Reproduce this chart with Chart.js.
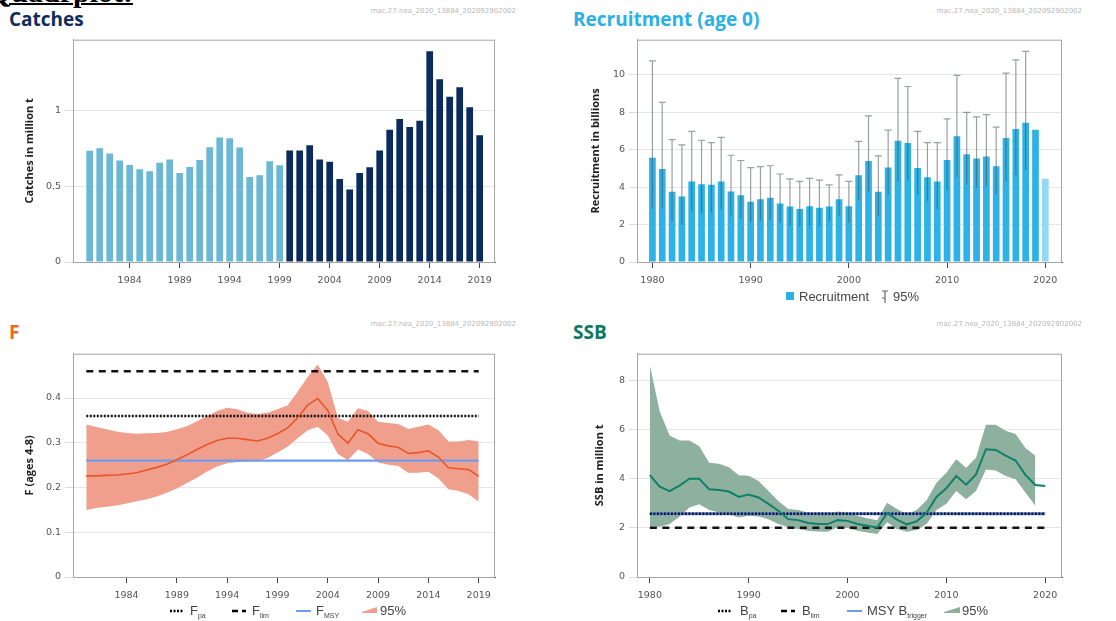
<!DOCTYPE html>
<html lang="en">
<head>
<meta charset="UTF-8">
<title>Quadplot</title>
<script src="https://cdn.jsdelivr.net/npm/chart.js"></script>
<style>
  body { margin: 0; width: 1116px; height: 621px; background: #fff; position: relative; overflow: hidden; font-family: "Open Sans", sans-serif; }
  .title { position: absolute; font-weight: 700; font-size: 19px; line-height: 22px; white-space: nowrap; }
  .cut { position: absolute; left: -12px; top: -24px; font-family: "Liberation Serif", serif; font-weight: 700; font-size: 30px; line-height: 32px; text-decoration: underline; text-decoration-thickness: 2px; color: #000; }
  .stamp { position: absolute; font-size: 7px; color: #b8b8b8; width: 220px; text-align: right; font-family: "DejaVu Sans", sans-serif; }
  .lg { position: absolute; font-family: "Liberation Sans", sans-serif; font-size: 13px; color: #444; white-space: nowrap; line-height: 14px; }
  .lg sub { font-size: 7px; vertical-align: -3px; }
  .ico { position: absolute; }
  canvas { position: absolute; }
</style>
</head>
<body>
  <div class="cut">Quadrplot:</div>

  <div class="title" style="left:9px; top:8px; color:#0d2d5c;">Catches</div>
  <div class="stamp" style="left:296px; top:7px;">mac.27.nea_2020_13884_202092902002</div>
  <canvas id="catchChart" width="540" height="265" style="left:0; top:30px;"></canvas>

  <div class="title" style="left:573px; top:8px; color:#2bb0e6;">Recruitment (age 0)</div>
  <div class="stamp" style="left:862px; top:7px;">mac.27.nea_2020_13884_202092902002</div>
  <canvas id="recruitChart" width="540" height="265" style="left:560px; top:30px;"></canvas>
  <svg class="ico" style="left:786px; top:292px;" width="9" height="9"><rect x="0" y="0" width="8" height="8" fill="#2bb0e6"/></svg>
  <div class="lg" style="left:799px; top:290px;">Recruitment</div>
  <svg class="ico" style="left:880px; top:290px;" width="10" height="14"><path d="M5 1 V13 M2 1 H8 M2 8 H5" stroke="#666" stroke-width="1.2" fill="none"/></svg>
  <div class="lg" style="left:893px; top:290px;">95%</div>

  <div class="title" style="left:9px; top:321px; color:#f26522;">F</div>
  <div class="stamp" style="left:296px; top:320px;">mac.27.nea_2020_13884_202092902002</div>
  <canvas id="fChart" width="540" height="265" style="left:0; top:344px;"></canvas>
  <svg class="ico" style="left:170px; top:608px;" width="14" height="6"><line x1="0" y1="3" x2="14" y2="3" stroke="#000" stroke-width="2.5" stroke-dasharray="2,1.5"/></svg>
  <div class="lg" style="left:190px; top:604px;">F<sub>pa</sub></div>
  <svg class="ico" style="left:232px; top:608px;" width="14" height="6"><line x1="0" y1="3" x2="14" y2="3" stroke="#000" stroke-width="2.5" stroke-dasharray="6,4"/></svg>
  <div class="lg" style="left:252px; top:604px;">F<sub>lim</sub></div>
  <svg class="ico" style="left:296px; top:608px;" width="15" height="6"><line x1="0" y1="3" x2="15" y2="3" stroke="#6f9cf0" stroke-width="2"/></svg>
  <div class="lg" style="left:316px; top:604px;">F<sub>MSY</sub></div>
  <svg class="ico" style="left:362px; top:606px;" width="15" height="8"><polygon points="0,6 15,1 15,7 0,7" fill="#ef9f8c"/></svg>
  <div class="lg" style="left:380px; top:604px;">95%</div>

  <div class="title" style="left:573px; top:321px; color:#0b7a60;">SSB</div>
  <div class="stamp" style="left:862px; top:320px;">mac.27.nea_2020_13884_202092902002</div>
  <canvas id="ssbChart" width="540" height="265" style="left:560px; top:344px;"></canvas>
  <svg class="ico" style="left:718px; top:608px;" width="14" height="6"><line x1="0" y1="3" x2="14" y2="3" stroke="#000" stroke-width="2.5" stroke-dasharray="2,1.5"/></svg>
  <div class="lg" style="left:740px; top:604px;">B<sub>pa</sub></div>
  <svg class="ico" style="left:781px; top:608px;" width="14" height="6"><line x1="0" y1="3" x2="14" y2="3" stroke="#000" stroke-width="2.5" stroke-dasharray="6,4"/></svg>
  <div class="lg" style="left:802px; top:604px;">B<sub>lim</sub></div>
  <svg class="ico" style="left:847px; top:608px;" width="15" height="6"><line x1="0" y1="3" x2="15" y2="3" stroke="#6f9cf0" stroke-width="2"/></svg>
  <div class="lg" style="left:867px; top:604px;">MSY B<sub>trigger</sub></div>
  <svg class="ico" style="left:944px; top:606px;" width="16" height="8"><polygon points="0,6 16,1 16,7 0,7" fill="#8db09f"/></svg>
  <div class="lg" style="left:962px; top:604px;">95%</div>

<script>
// ---- data ----
const catchYears = [1980, 1981, 1982, 1983, 1984, 1985, 1986, 1987, 1988, 1989,
  1990, 1991, 1992, 1993, 1994, 1995, 1996, 1997, 1998, 1999,
  2000, 2001, 2002, 2003, 2004, 2005, 2006, 2007, 2008, 2009,
  2010, 2011, 2012, 2013, 2014, 2015, 2016, 2017, 2018, 2019];
const catches = [0.735, 0.753, 0.718, 0.672, 0.641, 0.613, 0.600, 0.656, 0.678, 0.589,
  0.628, 0.674, 0.759, 0.823, 0.818, 0.757, 0.562, 0.573, 0.667, 0.639,
  0.737, 0.737, 0.772, 0.678, 0.663, 0.549, 0.479, 0.589, 0.626, 0.737,
  0.875, 0.945, 0.893, 0.934, 1.394, 1.208, 1.092, 1.155, 1.024, 0.838];

const recruitYears = [1980, 1981, 1982, 1983, 1984, 1985, 1986, 1987, 1988, 1989,
  1990, 1991, 1992, 1993, 1994, 1995, 1996, 1997, 1998, 1999,
  2000, 2001, 2002, 2003, 2004, 2005, 2006, 2007, 2008, 2009,
  2010, 2011, 2012, 2013, 2014, 2015, 2016, 2017, 2018, 2019, 2020];
const recruitment = [5.56, 4.96, 3.75, 3.50, 4.30, 4.15, 4.12, 4.30, 3.77, 3.56,
  3.22, 3.35, 3.43, 3.12, 2.96, 2.83, 2.98, 2.90, 2.96, 3.35,
  2.98, 4.63, 5.39, 3.75, 5.05, 6.48, 6.36, 5.02, 4.52, 4.30,
  5.44, 6.71, 5.76, 5.53, 5.63, 5.11, 6.62, 7.10, 7.43, 7.06, 4.44];
const recruitHigh = [10.74, 8.52, 6.53, 6.25, 6.97, 6.50, 6.37, 6.65, 5.70, 5.42,
  5.04, 5.09, 5.14, 4.70, 4.44, 4.30, 4.47, 4.37, 4.12, 4.65,
  4.30, 6.44, 7.80, 5.67, 7.04, 9.81, 9.37, 6.97, 6.37, 6.37,
  7.64, 9.96, 7.99, 7.75, 7.87, 7.20, 10.09, 10.79, 11.25, null, null];
const recruitLow = [2.85, 2.85, 2.18, 2.00, 2.68, 2.59, 2.64, 2.82, 2.50, 2.34,
  2.15, 2.20, 2.27, 2.10, 1.94, 1.87, 1.94, 1.94, 2.17, 2.45,
  2.10, 3.33, 3.77, 2.46, 3.59, 4.30, 4.37, 3.59, 3.26, 2.83,
  3.82, 4.52, 4.15, 3.96, 4.05, 3.59, 4.30, 4.65, 4.93, null, null];

const fYears = catchYears;
const fishingF = [0.226, 0.226, 0.227, 0.228, 0.230, 0.233, 0.239, 0.245, 0.252, 0.262,
  0.273, 0.285, 0.296, 0.305, 0.310, 0.310, 0.307, 0.304, 0.310, 0.320,
  0.333, 0.356, 0.384, 0.399, 0.372, 0.320, 0.299, 0.329, 0.320, 0.299,
  0.293, 0.290, 0.276, 0.278, 0.282, 0.268, 0.244, 0.242, 0.240, 0.225];
const fHigh = [0.341, 0.335, 0.330, 0.325, 0.322, 0.320, 0.321, 0.322, 0.324, 0.330,
  0.337, 0.348, 0.360, 0.371, 0.378, 0.375, 0.367, 0.364, 0.367, 0.375,
  0.383, 0.414, 0.447, 0.475, 0.436, 0.356, 0.347, 0.377, 0.371, 0.347,
  0.344, 0.342, 0.331, 0.336, 0.341, 0.328, 0.303, 0.303, 0.306, 0.303];
const fLow = [0.150, 0.154, 0.157, 0.160, 0.164, 0.169, 0.174, 0.180, 0.188, 0.198,
  0.210, 0.222, 0.236, 0.247, 0.254, 0.257, 0.258, 0.259, 0.266, 0.278,
  0.291, 0.310, 0.328, 0.336, 0.316, 0.275, 0.261, 0.285, 0.275, 0.256,
  0.251, 0.248, 0.233, 0.233, 0.235, 0.220, 0.196, 0.192, 0.185, 0.168];
const F_LIM = 0.46, F_PA = 0.36, F_MSY = 0.26;

const ssbYears = recruitYears;
const ssb = [4.14, 3.67, 3.49, 3.71, 3.99, 3.99, 3.56, 3.53, 3.47, 3.25,
  3.35, 3.23, 2.97, 2.69, 2.35, 2.31, 2.19, 2.15, 2.15, 2.31,
  2.28, 2.15, 2.08, 2.00, 2.59, 2.33, 2.14, 2.26, 2.61, 3.25,
  3.60, 4.10, 3.75, 4.17, 5.19, 5.16, 4.93, 4.73, 4.15, 3.74, 3.70];
const ssbHigh = [8.60, 6.72, 5.75, 5.54, 5.54, 5.31, 4.64, 4.60, 4.46, 4.13,
  4.11, 3.90, 3.49, 3.09, 2.76, 2.72, 2.62, 2.55, 2.53, 2.66,
  2.62, 2.49, 2.39, 2.31, 3.02, 2.76, 2.55, 2.72, 3.12, 3.83,
  4.23, 4.78, 4.44, 4.84, 6.18, 6.18, 5.94, 5.81, 5.24, 4.93];
const ssbLow = [2.05, 2.04, 2.15, 2.45, 2.82, 2.96, 2.72, 2.62, 2.55, 2.42,
  2.49, 2.46, 2.35, 2.15, 2.02, 1.95, 1.88, 1.85, 1.84, 2.02,
  1.99, 1.88, 1.81, 1.75, 2.22, 1.95, 1.84, 1.91, 2.15, 2.72,
  2.98, 3.49, 3.16, 3.49, 4.37, 4.33, 4.10, 3.97, 3.43, 2.89];
const B_LIM = 2.0, B_PA = 2.57, MSY_BTRIGGER = 2.57;

const ticks5 = [1984, 1989, 1994, 1999, 2004, 2009, 2014, 2019];
const ticks10 = [1980, 1990, 2000, 2010, 2020];

// ---- helpers ----
const xy = (xs, ys) => xs.map((x, i) => ({ x: x, y: ys[i] })).filter(p => p.y != null);
const hline = (x0, x1, v) => [{ x: x0, y: v }, { x: x1, y: v }];

const frame = {
  id: 'frame',
  beforeDatasetsDraw(chart) {
    const a = chart.chartArea, ctx = chart.ctx;
    ctx.save();
    ctx.strokeStyle = '#a6a6a6';
    ctx.lineWidth = 1;
    ctx.strokeRect(a.left + 0.5, a.top + 0.5, a.right - a.left - 1, a.bottom - a.top);
    ctx.restore();
  }
};

const errorBars = {
  id: 'errorBars',
  afterDatasetsDraw(chart) {
    const { ctx, scales: { x, y } } = chart;
    ctx.save();
    ctx.strokeStyle = 'rgba(70,82,88,0.55)';
    ctx.lineWidth = 1.2;
    recruitYears.forEach((yr, i) => {
      if (recruitHigh[i] == null) return;
      const px = x.getPixelForValue(yr);
      const top = y.getPixelForValue(recruitHigh[i]);
      const bot = y.getPixelForValue(recruitLow[i]);
      ctx.beginPath();
      ctx.moveTo(px, bot);
      ctx.lineTo(px, top);
      ctx.moveTo(px - 3.5, top);
      ctx.lineTo(px + 3.5, top);
      ctx.stroke();
    });
    ctx.restore();
  }
};

function scalesFor(xmin, xmax, xticks, ymax, yticks, yTitle, yWidth, titlePad, xHeight) {
  const tickFont = { family: 'DejaVu Sans', size: 9.5 };
  return {
    x: {
      type: 'linear', min: xmin, max: xmax, offset: false,
      afterBuildTicks: s => { s.ticks = xticks.map(v => ({ value: v })); },
      afterFit: s => { s.height = xHeight; },
      grid: { drawOnChartArea: false, offset: false, tickLength: 6, tickColor: '#444' },
      border: { color: '#555' },
      ticks: { font: tickFont, color: '#555', padding: 7, maxRotation: 0, callback: v => String(v) }
    },
    y: {
      min: 0, max: ymax,
      afterBuildTicks: s => { s.ticks = yticks.map(v => ({ value: v })); },
      afterFit: s => { s.width = yWidth; },
      grid: { color: '#e6e6e6', tickColor: '#dcdcdc', tickLength: 8 },
      border: { color: '#a6a6a6' },
      ticks: { font: tickFont, color: '#555', padding: 4, callback: v => String(v) },
      title: { display: true, text: yTitle, color: '#222', padding: { top: titlePad }, font: { family: 'Open Sans', size: 11, weight: 'bold' } }
    }
  };
}

const common = {
  responsive: false,
  animation: false,
  plugins: { legend: { display: false }, tooltip: { enabled: false } },
  elements: { point: { radius: 0 }, line: { tension: 0 } }
};

// ---- Catches ----
new Chart(document.getElementById('catchChart'), {
  type: 'bar',
  data: {
    datasets: [{
      data: xy(catchYears, catches),
      backgroundColor: catchYears.map(y => y < 2000 ? '#6bb7d5' : '#0a2b5c'),
      barPercentage: 0.67, categoryPercentage: 1
    }]
  },
  options: Object.assign({}, common, {
    layout: { padding: { top: 8, right: 45, left: 0, bottom: 0 } },
    scales: scalesFor(1978.33, 2020.53, ticks5, 1.47, [0, 0.5, 1], 'Catches in million t', 73, 23, 33)
  }),
  plugins: [frame]
});

// ---- Recruitment ----
new Chart(document.getElementById('recruitChart'), {
  type: 'bar',
  data: {
    datasets: [{
      data: xy(recruitYears, recruitment),
      backgroundColor: recruitYears.map(y => y < 2020 ? '#2cb2e6' : '#93d8f5'),
      barPercentage: 0.68, categoryPercentage: 1
    }]
  },
  options: Object.assign({}, common, {
    layout: { padding: { top: 8, right: 38, left: 0, bottom: 0 } },
    scales: scalesFor(1978.43, 2021.7, ticks10, 11.87, [0, 2, 4, 6, 8, 10], 'Recruitment in billions', 77, 29, 33)
  }),
  plugins: [frame, errorBars]
});

// ---- F ----
new Chart(document.getElementById('fChart'), {
  type: 'line',
  data: {
    datasets: [
      { data: xy(fYears, fishingF), borderColor: '#e8562b', borderWidth: 1.6 },
      { data: hline(1980, 2019, F_PA), borderColor: '#111', borderWidth: 2.5, borderDash: [2, 1.5] },
      { data: hline(1980, 2019, F_LIM), borderColor: '#111', borderWidth: 2.5, borderDash: [7, 5.5] },
      { data: hline(1980, 2019, F_MSY), borderColor: '#6f9cf0', borderWidth: 2.2 },
      { data: xy(fYears, fLow), borderWidth: 0, borderColor: 'transparent' },
      { data: xy(fYears, fHigh), borderWidth: 0, borderColor: 'transparent', fill: '-1', backgroundColor: '#ef9f8c' }
    ]
  },
  options: Object.assign({}, common, {
    layout: { padding: { top: 8, right: 45, left: 0, bottom: 0 } },
    scales: scalesFor(1978.68, 2020.62, ticks5, 0.499, [0, 0.1, 0.2, 0.3, 0.4], 'F (ages 4-8)', 73, 23, 32)
  }),
  plugins: [frame]
});

// ---- SSB ----
new Chart(document.getElementById('ssbChart'), {
  type: 'line',
  data: {
    datasets: [
      { data: xy(ssbYears, ssb), borderColor: '#10806a', borderWidth: 2 },
      { data: hline(1980, 2020, B_PA), borderColor: '#111', borderWidth: 2.5, borderDash: [2, 1.5] },
      { data: hline(1980, 2020, MSY_BTRIGGER), borderColor: '#5a88ee', borderWidth: 3 },
      { data: hline(1980, 2020, B_LIM), borderColor: '#111', borderWidth: 2.5, borderDash: [7, 5.5] },
      { data: xy(ssbYears, ssbLow), borderWidth: 0, borderColor: 'transparent' },
      { data: xy(ssbYears, ssbHigh), borderWidth: 0, borderColor: 'transparent', fill: '-1', backgroundColor: '#8db09f' }
    ]
  },
  options: Object.assign({}, common, {
    layout: { padding: { top: 8, right: 38, left: 0, bottom: 0 } },
    scales: scalesFor(1978.7, 2021.7, ticks10, 9.07, [0, 2, 4, 6, 8], 'SSB in million t', 77, 33, 32)
  }),
  plugins: [frame]
});
</script>
</body>
</html>
